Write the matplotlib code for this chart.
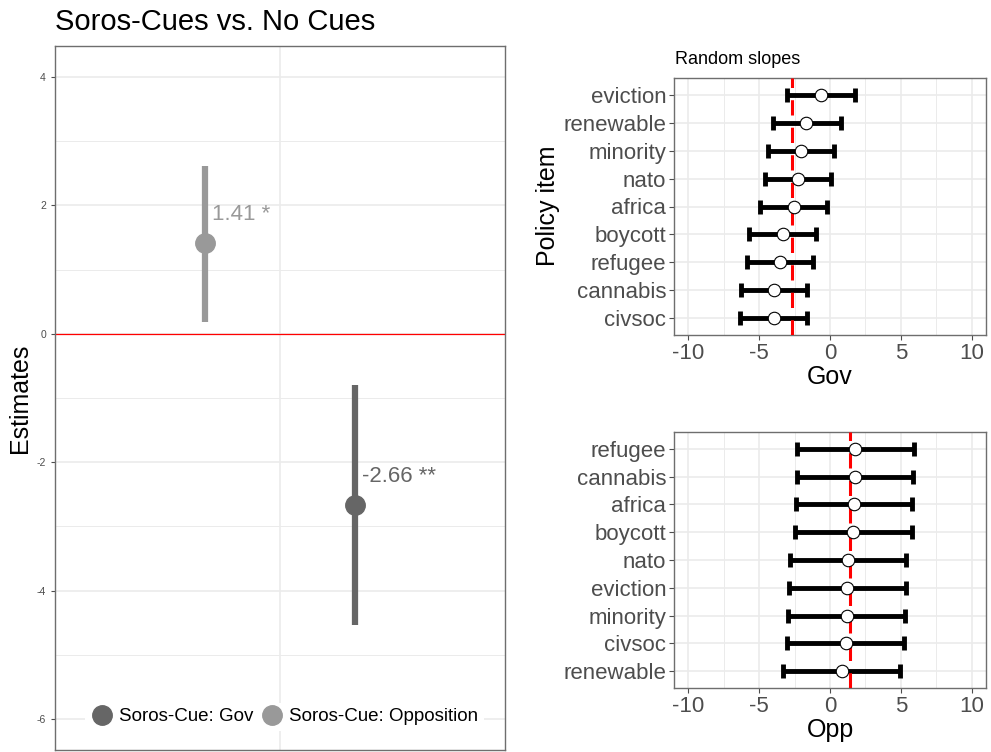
import numpy as np
import matplotlib
matplotlib.use("Agg")
import matplotlib.pyplot as plt
from matplotlib.lines import Line2D
from matplotlib.ticker import MultipleLocator

plt.rcParams['font.family'] = ['Liberation Sans', 'DejaVu Sans']
plt.rcParams['axes.unicode_minus'] = False

# left panel: fixed effects
groups = ["Soros-Cue: Gov", "Soros-Cue: Opposition"]
est = [-2.66, 1.41]
lo = [-4.53, 0.19]
hi = [-0.79, 2.61]
stars = ["**", "*"]
grp_col = ["#666666", "#999999"]

# right top: random slopes Gov
gov_items = ["eviction", "renewable", "minority", "nato", "africa",
             "boycott", "refugee", "cannabis", "civsoc"]
gov_est = [-0.61, -1.67, -2.07, -2.25, -2.56, -3.31, -3.50, -3.92, -3.97]
gov_lo = [-3.00, -4.04, -4.39, -4.60, -4.93, -5.70, -5.87, -6.29, -6.34]
gov_hi = [1.78, 0.80, 0.31, 0.09, -0.21, -0.99, -1.17, -1.60, -1.64]

# right bottom: random slopes Opp
opp_items = ["refugee", "cannabis", "africa", "boycott", "nato",
             "eviction", "minority", "civsoc", "renewable"]
opp_est = [1.78, 1.76, 1.71, 1.64, 1.27, 1.22, 1.17, 1.10, 0.82]
opp_lo = [-2.32, -2.35, -2.37, -2.44, -2.84, -2.86, -2.93, -3.00, -3.29]
opp_hi = [5.89, 5.85, 5.80, 5.75, 5.38, 5.35, 5.28, 5.19, 4.91]

W, H = 991, 752
fig = plt.figure(figsize=(W / 100, H / 100), dpi=100)

def px_box(l, t, r, b):
    return [l / W, (H - b) / H, (r - l) / W, (b - t) / H]

grid_c = "#EBEBEB"
tick_c = "#4D4D4D"
border_c = "#6E6E6E"

# ---- left panel ----
ax = fig.add_axes(px_box(55, 46, 505, 750))
xpos = [1.2, 0.8]
ax.set_xlim(0.4, 1.6)
ax.set_ylim(-6.48, 4.48)
ax.set_yticks([-6, -4, -2, 0, 2, 4])
ax.yaxis.set_minor_locator(MultipleLocator(1))
ax.set_xticks([1.0])
ax.set_xticklabels([])
ax.tick_params(axis='x', length=0)
ax.tick_params(axis='y', labelsize=7.5, colors=tick_c, length=3, width=0.8)
ax.tick_params(axis='y', which='minor', length=0)
ax.grid(True, which='major', color=grid_c, lw=1.2, zorder=0)
ax.grid(True, which='minor', axis='y', color=grid_c, lw=0.7, zorder=0)
ax.set_axisbelow(True)
for s in ax.spines.values():
    s.set_color(border_c)
    s.set_linewidth(1.0)
ax.axhline(0, color="red", lw=0.9, zorder=1)
for i in range(2):
    ax.plot([xpos[i], xpos[i]], [lo[i], hi[i]], color=grp_col[i], lw=4.5,
            solid_capstyle='butt', zorder=3)
    ax.plot(xpos[i], est[i], 'o', color=grp_col[i], ms=14, zorder=4)
    ax.text(xpos[i] + 0.02, est[i] + 0.44, f"{est[i]:.2f} {stars[i]}",
            color=grp_col[i], fontsize=16, ha='left', va='center', zorder=5)
fig.text(20 / W, 1 - 398 / H, "Estimates", fontsize=18, rotation=90,
         ha='center', va='center')
handles = [Line2D([], [], marker='o', ls='', color=grp_col[i], ms=14) for i in range(2)]
leg = ax.legend(handles, groups, loc='center', bbox_to_anchor=(0.51, 0.047), ncol=2,
                fontsize=13.5, frameon=True, facecolor='white', edgecolor='none',
                framealpha=1, handletextpad=0.3, columnspacing=0.4, borderpad=0.3,
                handlelength=1.2)
fig.text(55 / W, 1 - 22 / H, "Soros-Cues vs. No Cues", fontsize=21, ha='left', va='center')

# ---- right panels ----
def slope_panel(box, items, e, l, h, ref, xlabel):
    a = fig.add_axes(box)
    n = len(items)
    y = np.arange(n, 0, -1)
    a.set_xlim(-11, 11)
    a.set_ylim(0.4, n + 0.6)
    a.set_xticks([-10, -5, 0, 5, 10])
    a.xaxis.set_minor_locator(MultipleLocator(2.5))
    a.set_yticks(y)
    a.set_yticklabels(items)
    a.tick_params(axis='both', labelsize=16, colors=tick_c, length=3.5, width=0.8, pad=2)
    a.tick_params(axis='x', which='minor', length=0)
    a.grid(True, which='major', color=grid_c, lw=1.2, zorder=0)
    a.grid(True, which='minor', axis='x', color=grid_c, lw=0.7, zorder=0)
    a.set_axisbelow(True)
    for s in a.spines.values():
        s.set_color(border_c)
        s.set_linewidth(1.0)
    e = np.array(e)
    xerr = [e - np.array(l), np.array(h) - e]
    a.errorbar(e, y, xerr=xerr, fmt='none', ecolor='black', elinewidth=3.5,
               capsize=4.8, capthick=3.5, zorder=2)
    a.plot([ref, ref], [0.4, n + 0.6], color='red', lw=2.2, dashes=(5, 4), zorder=3)
    a.plot(e, y, 'o', mfc='white', mec='black', mew=0.8, ms=9, ls='', zorder=4)
    a.set_xlabel(xlabel, fontsize=18, labelpad=1)
    return a

ax_g = slope_panel(px_box(674, 78, 986, 335), gov_items, gov_est, gov_lo, gov_hi, est[0], "Gov")
fig.text(548 / W, 1 - 206 / H, "Policy item", fontsize=18, rotation=90,
         ha='center', va='center')
fig.text(675 / W, 1 - 60 / H, "Random slopes", fontsize=13, ha='left', va='center')

ax_o = slope_panel(px_box(674, 432, 986, 688), opp_items, opp_est, opp_lo, opp_hi, est[1], "Opp")

fig.savefig("out.png", dpi=100)
